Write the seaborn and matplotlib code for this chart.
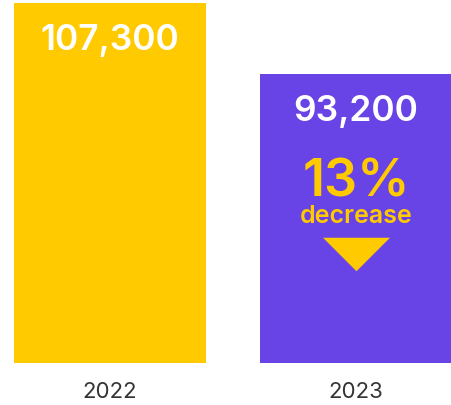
import matplotlib
matplotlib.use("Agg")
import matplotlib.pyplot as plt
import matplotlib.transforms as mtransforms
import seaborn as sns
import pandas as pd

years = ["2022", "2023"]
values = [107300, 93200]
change_pct = 13
change_word = "decrease"
colors = ["#FFCA00", "#6843E6"]

sns.set_theme(style="white")
plt.rcParams['font.family'] = ['Inter', 'DejaVu Sans']

DPI = 100
W, H = 452, 406
fig = plt.figure(figsize=(W / DPI, H / DPI), dpi=DPI)
ax = fig.add_axes([14 / W, (H - 364) / H, (W - 14) / W, 364 / H])

df = pd.DataFrame({"year": years, "value": values})
sns.barplot(data=df, x="year", y="value", hue="year", palette=colors,
            saturation=1, width=0.78, legend=False, ax=ax, linewidth=0)

ax.set_xlim(-0.39, 1.39)
ax.set_ylim(35700, 108100)
ax.set_xlabel("")
ax.set_ylabel("")
ax.set_yticks([])
for s in ax.spines.values():
    s.set_visible(False)
ax.tick_params(axis="x", length=0, pad=13, labelsize=16, labelcolor="#333333")

px = 72 / DPI  # points per pixel

for i, v in enumerate(values):
    ax.annotate(f"{v:,}", xy=(i, v), xytext=(0, -46 * px), textcoords="offset points",
                ha="center", va="baseline", color="white", fontsize=25.5,
                fontweight="semibold")

# change annotation on 2023 bar
ax.annotate(f"{change_pct}%", xy=(1, values[1]), xytext=(0, -121.5 * px),
            textcoords="offset points", ha="center", va="baseline",
            color=colors[0], fontsize=37.5, fontweight="semibold")
ax.annotate(change_word, xy=(1, values[1]), xytext=(0, -148.5 * px),
            textcoords="offset points", ha="center", va="baseline",
            color=colors[0], fontsize=18, fontweight="semibold")

offset = mtransforms.ScaledTranslation(0, -180 / DPI, fig.dpi_scale_trans)
tri = [(-1, 0.5), (1, 0.5), (0, -0.5)]
ax.plot([1], [values[1]], marker=tri, markersize=67 * px, color=colors[0],
        markeredgewidth=0, transform=ax.transData + offset, clip_on=False)

fig.savefig("out.png", dpi=DPI)
